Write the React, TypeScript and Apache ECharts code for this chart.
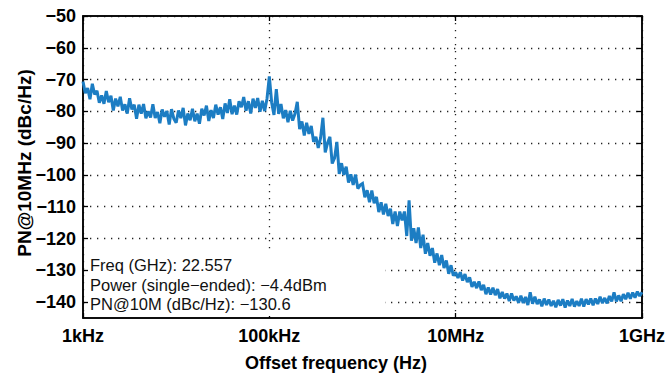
import { useEffect, useRef } from "react";
import * as echarts from "echarts";

// Phase-noise trace, 40 log-spaced samples per decade (dBc/Hz)
const pn1k = [
  -70.6, -74.3, -72.7, -76.2, -71.3, -74.7, -73.5, -77.3, -75.0, -77.6,
  -73.6, -77.1, -75.1, -79.7, -76.0, -78.4, -75.4, -79.7, -77.8, -80.7,
  -75.9, -79.4, -77.9, -82.3, -77.9, -80.7, -77.7, -82.2, -80.0, -81.9,
  -77.8, -82.1, -80.2, -83.7, -79.4, -81.7, -79.9, -84.1, -79.3, -82.3,
];
const pn10k = [
  -83.6, -79.7, -82.1, -78.9, -84.4, -80.7, -82.8, -79.2, -83.1, -80.7,
  -83.9, -79.2, -81.3, -78.2, -83.0, -79.6, -82.1, -77.9, -81.0, -78.7,
  -82.4, -77.5, -80.5, -76.2, -80.9, -78.2, -81.0, -76.8, -78.7, -75.5,
  -79.8, -76.8, -80.7, -76.0, -78.9, -75.8, -80.1, -76.7, -79.9, -76.0,
];
const pn100k = [
  -69.0, -77.2, -81.1, -73.0, -80.8, -77.7, -82.2, -79.6, -83.4, -79.8,
  -82.9, -80.8, -77.0, -85.6, -83.2, -87.6, -83.6, -87.1, -84.6, -89.6,
  -88.0, -91.5, -88.4, -82.0, -92.9, -89.9, -88.0, -96.4, -94.7, -89.6,
  -99.7, -96.3, -100.0, -97.4, -102.4, -99.8, -103.1, -99.9, -104.3, -103.2,
];
const pn1M = [
  -102.7, -107.0, -104.8, -108.6, -104.9, -108.9, -106.9, -111.7, -108.6, -112.4,
  -109.1, -112.9, -110.6, -115.4, -111.5, -116.1, -111.5, -114.3, -111.5, -119.2,
  -108.0, -120.7, -116.8, -121.4, -116.5, -123.0, -118.8, -124.8, -121.4, -125.4,
  -123.0, -127.6, -124.7, -128.4, -125.2, -129.3, -126.9, -131.1, -128.4, -131.7,
];
const pn10M = [
  -130.6, -132.4, -130.6, -133.2, -131.2, -133.7, -132.2, -135.2, -133.6, -135.6,
  -133.5, -136.2, -134.6, -137.5, -135.4, -137.6, -135.5, -137.8, -135.9, -138.8,
  -136.8, -138.9, -137.3, -139.7, -137.3, -139.5, -138.2, -140.2, -138.0, -140.3,
  -138.4, -140.9, -136.9, -140.5, -138.3, -140.6, -139.2, -141.3, -138.9, -140.9,
];
// last decade also carries the 1 GHz end point
const pn100M = [
  -139.2, -141.2, -139.6, -141.6, -139.3, -141.1, -139.1, -141.7, -139.5, -141.2,
  -139.0, -141.4, -139.7, -141.2, -138.9, -141.4, -139.1, -140.7, -138.9, -141.0,
  -138.9, -140.6, -138.3, -140.3, -138.7, -140.4, -138.1, -139.8, -136.9, -139.8,
  -137.9, -139.7, -137.5, -139.1, -137.1, -138.9, -137.0, -138.6, -136.7, -138.1,
  -136.9,
];

const decadeStarts = [1e3, 1e4, 1e5, 1e6, 1e7, 1e8];
const decadeTraces = [pn1k, pn10k, pn100k, pn1M, pn10M, pn100M];
const samplesPerDecade = 40;

const yTicks = [-140, -130, -120, -110, -100, -90, -80, -70, -60, -50];
const xTicks = [1e3, 1e5, 1e7, 1e9];
const xTickLabels = ["1kHz", "100kHz", "10MHz", "1GHz"];

const infoLines = [
  "Freq (GHz): 22.557",
  "Power (single\u2212ended): \u22124.4dBm",
  "PN@10M (dBc/Hz): \u2212130.6",
];

const FONT = "'Liberation Sans', Arial, Helvetica, sans-serif";

function buildTrace(): [number, number][] {
  const pts: [number, number][] = [];
  decadeTraces.forEach((vals, d) => {
    vals.forEach((v, i) => {
      pts.push([decadeStarts[d] * Math.pow(10, i / samplesPerDecade), v]);
    });
  });
  return pts;
}

const minus = (s: string) => s.replace("-", "\u2212");

export default function App() {
  const ref = useRef<HTMLDivElement>(null);

  useEffect(() => {
    if (!ref.current) return;
    const chart = echarts.init(ref.current, undefined, { renderer: "svg" });

    const dotted = { color: "#222", width: 1.3, type: [1.3, 5.7] as number[] };
    const tickStyle = { color: "#000", width: 1.3 };

    chart.setOption({
      animation: false,
      backgroundColor: "#fff",
      grid: {
        left: 83,
        right: 26,
        top: 16,
        bottom: 58,
        show: true,
        borderColor: "#000",
        borderWidth: 1.5,
        backgroundColor: "transparent",
      },
      xAxis: [
        {
          type: "log",
          logBase: 10,
          min: 1e3,
          max: 1e9,
          axisLine: { show: true, lineStyle: { color: "#000", width: 1.5 } },
          axisTick: { show: true, inside: true, length: 5, customValues: xTicks, lineStyle: tickStyle },
          axisLabel: {
            customValues: xTicks,
            margin: 9,
            color: "#000",
            fontFamily: FONT,
            fontWeight: "bold",
            fontSize: 18,
            formatter: (v: number) => {
              const idx = xTicks.findIndex((t) => Math.abs(Math.log10(t) - Math.log10(v)) < 1e-6);
              return idx >= 0 ? xTickLabels[idx] : "";
            },
          },
          splitLine: { show: true, lineStyle: dotted },
          minorTick: { show: false },
          minorSplitLine: { show: false },
        },
        {
          type: "log",
          logBase: 10,
          position: "top",
          min: 1e3,
          max: 1e9,
          axisLine: { show: true, lineStyle: { color: "#000", width: 1.5 } },
          axisTick: { show: true, inside: true, length: 5, customValues: xTicks, lineStyle: tickStyle },
          axisLabel: { show: false },
          splitLine: { show: false },
        },
      ],
      yAxis: [
        {
          type: "value",
          min: -145,
          max: -50,
          axisLine: { show: true, lineStyle: { color: "#000", width: 1.5 } },
          axisTick: { show: true, inside: true, length: 5, customValues: yTicks, lineStyle: tickStyle },
          axisLabel: {
            customValues: yTicks,
            margin: 7,
            color: "#000",
            fontFamily: FONT,
            fontWeight: "bold",
            fontSize: 18,
            formatter: (v: number) => minus(String(v)),
          },
          splitLine: { show: true, lineStyle: dotted },
        },
        {
          type: "value",
          position: "right",
          min: -145,
          max: -50,
          axisLine: { show: true, lineStyle: { color: "#000", width: 1.5 } },
          axisTick: { show: true, inside: true, length: 5, customValues: yTicks, lineStyle: tickStyle },
          axisLabel: { show: false },
          splitLine: { show: false },
        },
      ],
      series: [
        {
          type: "line",
          xAxisIndex: 0,
          yAxisIndex: 0,
          data: buildTrace(),
          showSymbol: false,
          symbol: "none",
          lineStyle: { color: "#1c7dc3", width: 3, join: "miter", miterLimit: 2 },
          z: 3,
        },
      ],
      graphic: [
        {
          type: "rect",
          z: 50,
          shape: { x: 88, y: 249, width: 297, height: 67 },
          style: { fill: "#fff" },
          silent: true,
        },
        ...infoLines.map((t, i) => ({
          type: "text",
          z: 51,
          x: 90,
          y: 265 + i * 19.5,
          style: {
            text: t,
            fill: "#111",
            font: `16.5px ${FONT}`,
            textAlign: "left",
            textVerticalAlign: "middle",
          },
        })),
        {
          type: "text",
          z: 51,
          x: 336,
          y: 363,
          style: {
            text: "Offset frequency (Hz)",
            fill: "#000",
            font: `bold 18px ${FONT}`,
            textAlign: "center",
            textVerticalAlign: "middle",
          },
        },
        {
          type: "text",
          z: 51,
          x: 24,
          y: 163,
          rotation: Math.PI / 2,
          style: {
            text: "PN@10MHz (dBc/Hz)",
            fill: "#000",
            font: `bold 19px ${FONT}`,
            textAlign: "center",
            textVerticalAlign: "middle",
          },
        },
      ],
    });

    return () => chart.dispose();
  }, []);

  return (
    <div
      ref={ref}
      style={{ position: "fixed", left: 0, top: 0, width: 668, height: 376, background: "#fff" }}
    />
  );
}
